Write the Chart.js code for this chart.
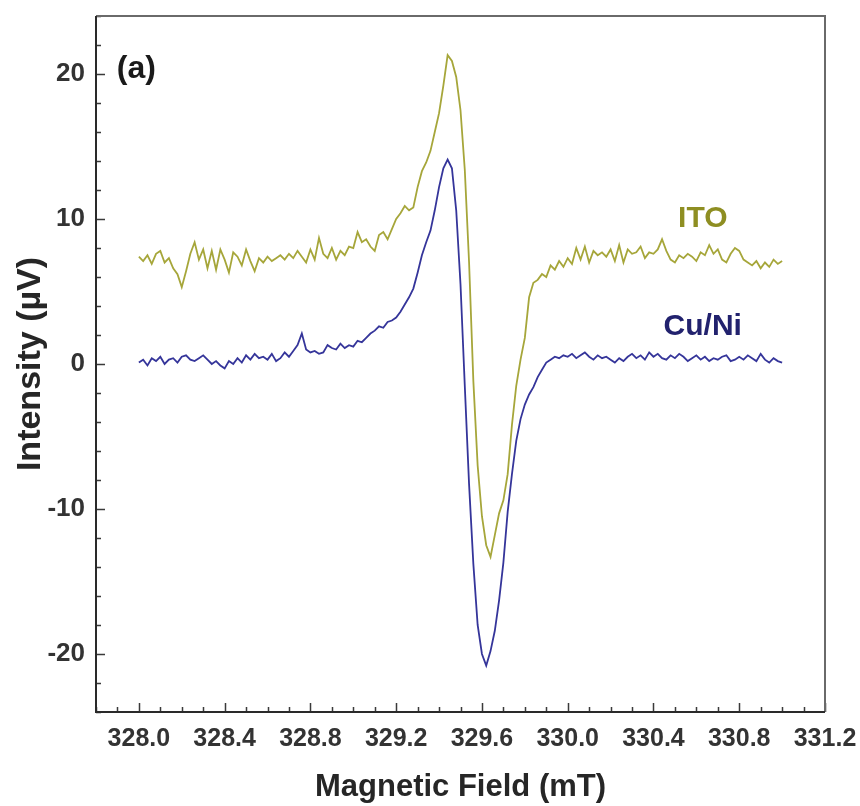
<!DOCTYPE html>
<html>
<head>
<meta charset="utf-8">
<script src="https://cdn.jsdelivr.net/npm/chart.js@4.4.1/dist/chart.umd.min.js"></script>
<style>
  html, body { margin: 0; padding: 0; background: #ffffff; }
</style>
</head>
<body>
<canvas id="eprChart" width="860" height="806"></canvas>
<script>
// field axis: 328.00 .. 331.00 mT, one reading every 0.02 mT
const fieldStart = 328.0;
const fieldStep = 0.02;

const itoValues = [
  7.4, 7.1, 7.5, 6.9, 7.6, 7.8, 7.0, 7.3, 6.6, 6.2,
  5.3, 6.4, 7.6, 8.4, 7.2, 7.9, 6.6, 7.8, 6.5, 7.9,
  7.2, 6.3, 7.7, 7.4, 6.8, 7.9, 7.1, 6.4, 7.3, 7.0,
  7.4, 7.1, 7.3, 7.5, 7.2, 7.6, 7.3, 7.8, 7.4, 7.0,
  7.9, 7.2, 8.7, 7.6, 7.3, 8.0, 7.2, 7.8, 7.5, 8.1,
  8.0, 9.1, 8.4, 8.6, 8.1, 7.8, 8.9, 9.1, 8.6, 9.3,
  10.0, 10.4, 10.9, 10.6, 10.8, 12.2, 13.3, 13.9, 14.7, 16.0,
  17.3, 19.2, 21.3, 20.9, 19.8, 17.5, 13.4, 7.0, -1.2, -7.0,
  -10.5, -12.5, -13.3, -11.8, -10.3, -9.4, -7.6, -4.2, -1.5, 0.3,
  1.8, 4.6, 5.6, 5.8, 6.2, 6.0, 6.8, 6.5, 7.1, 6.7,
  7.3, 6.9, 8.0, 7.2, 8.1, 7.0, 7.8, 7.5, 7.7, 7.4,
  7.9, 7.1, 8.2, 7.0, 7.9, 7.6, 7.7, 8.1, 7.3, 7.7,
  7.6, 7.9, 8.6, 7.8, 7.2, 7.0, 7.5, 7.3, 7.6, 7.4,
  7.1, 7.7, 7.5, 8.2, 7.6, 7.9, 7.2, 7.0, 7.6, 8.0,
  7.8, 7.2, 7.0, 6.8, 7.1, 6.6, 7.0, 6.7, 7.2, 6.9,
  7.1
];

const cuNiValues = [
  0.1, 0.3, -0.1, 0.4, 0.2, 0.5, 0.0, 0.3, 0.4, 0.1,
  0.5, 0.6, 0.3, 0.2, 0.4, 0.6, 0.3, 0.0, 0.2, -0.1,
  -0.3, 0.2, 0.0, 0.4, 0.1, 0.6, 0.3, 0.7, 0.4, 0.5,
  0.3, 0.7, 0.2, 0.4, 0.8, 0.5, 0.9, 1.3, 2.1, 1.0,
  0.8, 0.9, 0.7, 0.8, 1.3, 1.1, 1.0, 1.4, 1.1, 1.3,
  1.2, 1.6, 1.5, 1.8, 2.1, 2.3, 2.6, 2.5, 2.9, 3.0,
  3.2, 3.6, 4.1, 4.6, 5.2, 6.3, 7.5, 8.4, 9.2, 10.6,
  12.2, 13.5, 14.1, 13.5, 10.6, 5.5, -1.5, -8.3, -13.8, -18.0,
  -20.0, -20.8, -19.8, -18.4, -16.3, -13.7, -10.2, -7.6, -5.3, -3.8,
  -2.8, -2.1, -1.6, -0.9, -0.4, 0.1, 0.3, 0.5, 0.4, 0.6,
  0.5, 0.7, 0.4, 0.6, 0.8, 0.5, 0.3, 0.6, 0.4, 0.5,
  0.3, 0.1, 0.4, 0.2, 0.5, 0.7, 0.4, 0.6, 0.3, 0.8,
  0.5, 0.7, 0.4, 0.3, 0.6, 0.4, 0.7, 0.5, 0.2, 0.4,
  0.6, 0.3, 0.5, 0.2, 0.4, 0.3, 0.5, 0.6, 0.2, 0.3,
  0.5, 0.3, 0.6, 0.4, 0.2, 0.7, 0.3, 0.1, 0.4, 0.2,
  0.1
];

const xMajorTicks = [328.0, 328.4, 328.8, 329.2, 329.6, 330.0, 330.4, 330.8, 331.2];
const yMajorTicks = [-20, -10, 0, 10, 20];

// in-plot text labels, placed in data coordinates
const annotations = [
  { text: '(a)',   x: 327.897, y: 20.3, color: '#1a1a1a', size: 32, align: 'left' },
  { text: 'ITO',   x: 330.63,  y: 10.0, color: '#8e8e22', size: 30, align: 'center' },
  { text: 'Cu/Ni', x: 330.63,  y: 2.6,  color: '#22226e', size: 30, align: 'center' }
];

const ITO_COLOR = '#a6a63a';
const CUNI_COLOR = '#35359a';
const TICK_FONT = "'Liberation Sans', Arial, sans-serif";
const TITLE_FONT = "'Liberation Sans', Arial, sans-serif";

function toPoints(values) {
  return values.map((v, i) => ({ x: fieldStart + i * fieldStep, y: v }));
}

function isMajor(list, value) {
  return list.some(m => Math.abs(m - value) < 1e-6);
}

const frameTicksPlugin = {
  id: 'frame_ticks',

  afterDatasetsDraw: function (chart) {
    const ctx = chart.ctx;
    const a = chart.chartArea;
    const sx = chart.scales.x;
    const sy = chart.scales.y;

    ctx.save();
    ctx.strokeStyle = '#3a3a3a';
    ctx.lineWidth = 1.5;
    ctx.beginPath();
    // x ticks point up into the plot
    sx.ticks.forEach(t => {
      const px = Math.round(sx.getPixelForValue(t.value)) + 0.5;
      const len = isMajor(xMajorTicks, t.value) ? 9 : 5;
      ctx.moveTo(px, a.bottom);
      ctx.lineTo(px, a.bottom - len);
    });
    // y ticks point right into the plot
    sy.ticks.forEach(t => {
      const py = Math.round(sy.getPixelForValue(t.value)) + 0.5;
      const len = isMajor(yMajorTicks, t.value) ? 9 : 5;
      ctx.moveTo(a.left, py);
      ctx.lineTo(a.left + len, py);
    });
    ctx.stroke();

    // frame: top/right lighter, left/bottom dark
    ctx.lineWidth = 2;
    ctx.strokeStyle = '#6a6a6a';
    ctx.beginPath();
    ctx.moveTo(a.left, a.top);
    ctx.lineTo(a.right, a.top);
    ctx.lineTo(a.right, a.bottom);
    ctx.stroke();
    ctx.strokeStyle = '#2a2a2a';
    ctx.beginPath();
    ctx.moveTo(a.left, a.top);
    ctx.lineTo(a.left, a.bottom);
    ctx.lineTo(a.right, a.bottom);
    ctx.stroke();

    // text labels
    annotations.forEach(n => {
      ctx.font = 'bold ' + n.size + 'px ' + TITLE_FONT;
      ctx.fillStyle = n.color;
      ctx.textAlign = n.align;
      ctx.textBaseline = 'middle';
      ctx.fillText(n.text, sx.getPixelForValue(n.x), sy.getPixelForValue(n.y));
    });
    ctx.restore();
  }
};

function initChart() {
  Chart.register(frameTicksPlugin);
  const ctx = document.getElementById('eprChart');
  return new Chart(ctx, {
    type: 'scatter',
    data: {
      datasets: [
        {
          label: 'ITO',
          data: toPoints(itoValues),
          showLine: true,
          borderColor: ITO_COLOR,
          borderWidth: 1.8,
          pointRadius: 0,
          tension: 0
        },
        {
          label: 'Cu/Ni',
          data: toPoints(cuNiValues),
          showLine: true,
          borderColor: CUNI_COLOR,
          borderWidth: 1.8,
          pointRadius: 0,
          tension: 0
        }
      ]
    },
    options: {
      responsive: false,
      animation: false,
      devicePixelRatio: 1,
      layout: {
        padding: { left: 0, right: 35, top: 16, bottom: 0 }
      },
      plugins: {
        legend: { display: false },
        tooltip: { enabled: false },
        'frame_ticks': {}
      },
      scales: {
        x: {
          type: 'linear',
          min: 327.8,
          max: 331.2,
          afterFit: function (scale) {
            scale.height = 94;
            scale.paddingLeft = 0;
            scale.paddingRight = 0;
          },
          border: { display: false },
          grid: { display: false, drawTicks: false },
          ticks: {
            stepSize: 0.1,
            autoSkip: false,
            maxRotation: 0,
            minRotation: 0,
            padding: 12,
            color: '#333333',
            font: { family: TICK_FONT, size: 25, weight: 'bold' },
            callback: function (value) {
              return isMajor(xMajorTicks, value) ? value.toFixed(1) : '';
            }
          },
          title: {
            display: true,
            text: 'Magnetic Field (mT)',
            color: '#262626',
            padding: { top: 0, bottom: 0 },
            font: { family: TITLE_FONT, size: 31, weight: 'bold' }
          }
        },
        y: {
          min: -24,
          max: 24,
          afterFit: function (scale) {
            scale.width = 96;
            scale.paddingTop = 0;
            scale.paddingBottom = 0;
          },
          border: { display: false },
          grid: { display: false, drawTicks: false },
          ticks: {
            stepSize: 2,
            autoSkip: false,
            padding: 11,
            color: '#333333',
            font: { family: TICK_FONT, size: 26, weight: 'bold' },
            callback: function (value) {
              return isMajor(yMajorTicks, value) ? String(value) : '';
            }
          },
          title: {
            display: true,
            text: 'Intensity (µV)',
            color: '#262626',
            padding: { top: 10, bottom: 0 },
            font: { family: TITLE_FONT, size: 34, weight: 'bold' }
          }
        }
      }
    }
  });
}

var g_chart = initChart();
</script>
</body>
</html>
